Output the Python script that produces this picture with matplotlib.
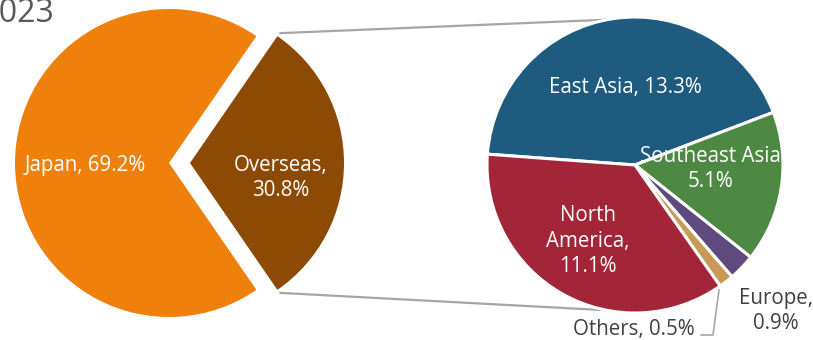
import numpy as np
import matplotlib
matplotlib.use('Agg')
import matplotlib.pyplot as plt

plt.rcParams['font.family'] = ['Open Sans', 'DejaVu Sans']

# main split
main_labels = ['Japan', 'Overseas']
main_values = [69.2, 30.8]
main_colors = ['#EF800C', '#8C4A05']

# breakdown of overseas
sub_labels = ['East Asia', 'Southeast Asia', 'Europe', 'Others', 'North America']
sub_values = [13.3, 5.1, 0.9, 0.5, 11.1]
sub_colors = ['#1E5B7E', '#4E8944', '#5E4A7C', '#C79A58', '#A32638']

title_text = 'FY2023'

W, H = 813, 340
fig = plt.figure(figsize=(W / 100, H / 100), dpi=100)
ax = fig.add_axes([0, 0, 1, 1])

# left pie, overseas wedge pulled out to the right
c1 = (169, 177)
r1 = 154
gap = 21  # explode offset in data units (pixels)
half = main_values[1] / 100 * 360 / 2
ax.pie(main_values, colors=main_colors, center=c1, radius=r1,
       startangle=half, explode=[0, gap], counterclock=True,
       wedgeprops=dict(linewidth=0))

# right pie
c2 = (635, 175)
r2 = 148
start2 = 175.8
ax.pie(sub_values, colors=sub_colors, center=c2, radius=r2,
       startangle=start2, counterclock=False,
       wedgeprops=dict(edgecolor='white', linewidth=2.2))

# connector lines from the overseas wedge to the breakdown pie
ox = c1[0] + gap
for sgn in (1, -1):
    a = np.deg2rad(half) * sgn
    x0 = ox + r1 * np.cos(a)
    y0 = c1[1] + r1 * np.sin(a)
    b = np.deg2rad(101) * sgn
    x1 = c2[0] + r2 * np.cos(b)
    y1 = c2[1] + r2 * np.sin(b)
    ax.plot([x0 + 2, x1], [y0 + 3 * sgn, y1], color='#A6A6A6', lw=1.6,
            zorder=0, solid_capstyle='butt')

fs = 14.8
ls = 1.3
ax.text(85, H - 165, f'{main_labels[0]}, {main_values[0]}%', color='white',
        fontsize=fs, ha='center', va='center')
ax.text(281, H - 178, f'{main_labels[1]},\n{main_values[1]}%', color='white',
        fontsize=fs, ha='center', va='center', linespacing=ls)

ax.text(625, H - 88, f'{sub_labels[0]}, {sub_values[0]}%', color='white',
        fontsize=fs, ha='center', va='center')
ax.text(710, H - 169, f'{sub_labels[1]}\n{sub_values[1]}%', color='white',
        fontsize=fs, ha='center', va='center', linespacing=ls)
ax.text(588, H - 241, 'North\nAmerica,\n' + f'{sub_values[4]}%', color='white',
        fontsize=fs, ha='center', va='center', linespacing=ls)
ax.text(776, H - 311, f'{sub_labels[2]},\n{sub_values[2]}%', color='#404040',
        fontsize=fs, ha='center', va='center', linespacing=ls)
ax.text(634, H - 329, f'{sub_labels[3]}, {sub_values[3]}%', color='#404040',
        fontsize=fs, ha='center', va='center')
# leader line for the small slice
ax.plot([701, 713, 719], [H - 335, H - 335, H - 290], color='#A6A6A6', lw=1.2)

ax.text(55, H + 3, title_text, color='#595959', fontsize=23,
        ha='right', va='top')

ax.set_xlim(0, W)
ax.set_ylim(0, H)
ax.set_aspect('equal')
ax.axis('off')

fig.savefig('out.png', dpi=100)
